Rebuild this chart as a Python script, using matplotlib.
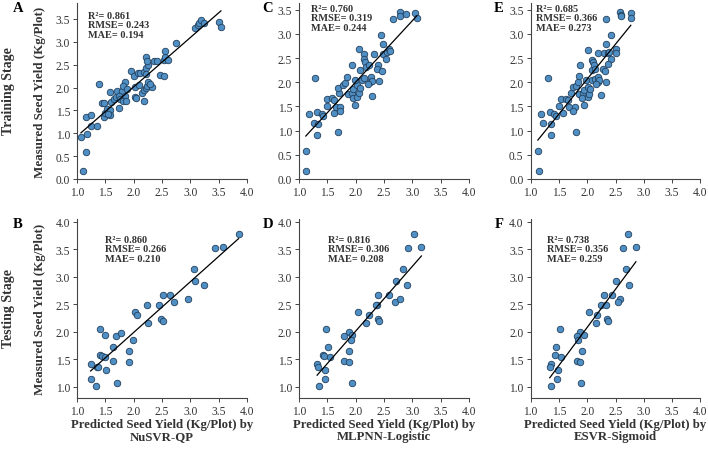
import numpy as np
import matplotlib.pyplot as plt

plt.rcParams['font.family'] = ['Liberation Serif', 'DejaVu Serif']

# training stage (measured vs predicted)
nusvr_train_x = [1.11, 1.15, 1.07, 1.18, 1.24, 1.35, 1.16, 1.25, 1.39, 1.44, 1.47, 1.48, 1.50, 1.53,
                 1.58, 1.59, 1.55, 1.60, 1.65, 1.59, 1.69, 1.74, 1.71, 1.79, 1.74, 1.84, 1.76, 1.81,
                 1.87, 1.84, 1.81, 1.88, 1.96, 2.01, 2.02, 2.03, 2.04, 2.07, 2.12, 2.14, 2.18, 2.21,
                 2.24, 2.26, 2.33, 2.19, 2.18, 2.21, 2.26, 2.21, 2.24, 2.36, 2.41, 2.47, 2.54, 2.53,
                 2.56, 2.61, 2.56, 2.74, 3.09, 3.13, 3.16, 3.19, 3.24, 3.50, 3.54, 2.22, 2.10, 2.28]
nusvr_train_y = [0.18, 0.58, 0.91, 0.98, 1.15, 1.15, 1.35, 1.40, 2.08, 1.66, 1.66, 1.35, 1.44, 1.53,
                 1.50, 1.40, 1.43, 1.68, 1.75, 1.91, 1.79, 1.55, 1.93, 1.93, 1.82, 1.82, 1.75, 1.71,
                 1.70, 2.12, 2.03, 1.97, 2.37, 2.25, 2.01, 1.79, 1.77, 2.32, 2.32, 1.88, 1.95, 1.98,
                 2.04, 2.12, 2.01, 1.71, 2.35, 2.42, 2.49, 2.66, 2.58, 2.58, 2.59, 2.28, 2.25, 2.60,
                 2.66, 2.61, 2.79, 2.98, 3.30, 3.37, 3.41, 3.48, 3.41, 3.43, 3.32, 2.30, 2.05, 2.07]

mlpnn_train_x = [1.12, 1.12, 1.32, 1.68, 1.26, 1.34, 1.18, 1.31, 1.40, 1.43, 1.29, 1.49, 1.50, 1.59,
                 1.62, 1.61, 1.65, 1.73, 1.73, 1.71, 1.69, 1.78, 1.82, 1.84, 1.87, 1.93, 1.95, 1.98,
                 1.96, 2.02, 1.99, 2.03, 2.06, 2.08, 2.11, 2.15, 2.06, 1.93, 2.08, 2.15, 2.15, 2.17,
                 2.19, 2.24, 2.27, 2.25, 2.29, 2.29, 2.22, 2.32, 2.40, 2.38, 2.46, 2.41, 2.45, 2.48,
                 2.48, 2.53, 2.55, 2.58, 2.61, 2.65, 2.78, 2.78, 2.88, 3.05, 3.08]
mlpnn_train_y = [0.17, 0.58, 0.91, 0.97, 1.15, 1.14, 1.35, 1.39, 1.35, 1.31, 2.08, 1.66, 1.52, 1.67,
                 1.64, 1.36, 1.48, 1.48, 1.40, 1.77, 1.89, 1.95, 1.99, 2.11, 1.76, 1.78, 1.67, 1.53,
                 1.86, 1.95, 2.04, 1.69, 1.78, 1.88, 2.04, 2.08, 2.68, 2.36, 2.26, 2.59, 2.48, 2.42,
                 2.31, 2.35, 2.10, 2.00, 2.02, 1.71, 1.97, 2.59, 2.35, 2.28, 2.24, 2.02, 2.98, 2.80,
                 2.59, 2.48, 2.62, 2.68, 2.64, 3.31, 3.46, 3.38, 3.41, 3.43, 3.33]

esvr_train_x = [1.15, 1.13, 1.37, 1.81, 1.22, 1.37, 1.18, 1.34, 1.41, 1.45, 1.30, 1.53, 1.51, 1.62,
                1.66, 1.58, 1.68, 1.78, 1.75, 1.71, 1.75, 1.81, 1.84, 1.86, 1.86, 1.92, 1.90, 1.94,
                1.95, 2.01, 1.98, 2.01, 2.04, 2.05, 2.08, 2.14, 2.02, 1.88, 2.08, 2.08, 2.11, 2.12,
                2.14, 2.19, 2.19, 2.21, 2.25, 2.16, 2.19, 2.28, 2.31, 2.33, 2.29, 2.42, 2.33, 2.37,
                2.39, 2.42, 2.37, 2.50, 2.50, 2.34, 2.58, 2.59, 2.59, 2.77, 2.77]
esvr_train_y = [0.17, 0.58, 0.91, 0.98, 1.15, 1.14, 1.35, 1.39, 1.35, 1.30, 2.08, 1.66, 1.52, 1.66,
                1.64, 1.36, 1.48, 1.48, 1.41, 1.77, 1.90, 1.93, 2.00, 2.13, 1.76, 1.78, 1.68, 1.53,
                1.85, 1.90, 2.04, 1.70, 1.76, 1.86, 2.04, 2.07, 2.67, 2.36, 2.26, 2.47, 2.42, 2.35,
                2.28, 2.10, 2.00, 2.04, 1.73, 1.97, 2.60, 2.28, 2.24, 2.00, 2.60, 2.98, 2.80, 2.60,
                2.62, 2.48, 2.38, 2.68, 2.61, 3.30, 3.46, 3.40, 3.37, 3.43, 3.33]

# testing stage
nusvr_test_x = [3.85, 3.43, 3.57, 3.06, 3.08, 3.24, 2.52, 2.64, 2.71, 2.96, 2.24, 2.44, 2.02, 2.05,
                2.25, 2.48, 2.52, 1.40, 1.50, 1.69, 1.78, 1.98, 1.64, 1.91, 1.40, 1.44, 1.49, 1.64,
                1.92, 1.24, 1.35, 1.37, 1.52, 1.24, 1.34, 1.70]
nusvr_test_y = [3.78, 3.52, 3.54, 3.15, 2.92, 2.85, 2.67, 2.67, 2.55, 2.59, 2.48, 2.49, 2.36, 2.31,
                2.16, 2.24, 2.19, 2.05, 1.95, 1.93, 1.98, 1.85, 1.73, 1.65, 1.58, 1.56, 1.55, 1.47,
                1.45, 1.41, 1.36, 1.36, 1.30, 1.15, 1.01, 1.08]

mlpnn_test_x = [3.03, 2.92, 3.16, 2.84, 2.72, 2.91, 2.39, 2.58, 2.69, 2.78, 2.38, 2.36, 2.04, 2.24,
                2.19, 2.40, 2.42, 1.48, 1.89, 1.93, 1.80, 1.92, 1.52, 1.89, 1.43, 1.44, 1.55, 1.80,
                1.89, 1.32, 1.34, 1.46, 1.45, 1.35, 1.94]
mlpnn_test_y = [3.78, 3.52, 3.54, 3.15, 2.92, 2.85, 2.67, 2.67, 2.55, 2.59, 2.49, 2.48, 2.36, 2.31,
                2.16, 2.24, 2.19, 2.05, 1.99, 1.95, 1.93, 1.85, 1.73, 1.65, 1.58, 1.57, 1.55, 1.47,
                1.45, 1.41, 1.36, 1.30, 1.15, 1.01, 1.08]

esvr_test_x = [2.72, 2.64, 2.86, 2.68, 2.50, 2.74, 2.29, 2.43, 2.58, 2.55, 2.25, 2.33, 2.03, 2.17,
               2.15, 2.35, 2.36, 1.52, 1.88, 1.95, 1.82, 1.84, 1.45, 1.91, 1.44, 1.54, 1.82, 1.87,
               1.37, 1.34, 1.49, 1.47, 1.36, 1.89]
esvr_test_y = [3.78, 3.52, 3.54, 3.15, 2.92, 2.85, 2.67, 2.67, 2.59, 2.55, 2.49, 2.48, 2.36, 2.31,
               2.16, 2.24, 2.19, 2.05, 1.99, 1.95, 1.93, 1.85, 1.73, 1.65, 1.58, 1.55, 1.47, 1.45,
               1.41, 1.36, 1.30, 1.15, 1.01, 1.08]

stats = [["R²= 0.861", "RMSE= 0.243", "MAE= 0.194"],
         ["R²= 0.760", "RMSE= 0.319", "MAE= 0.244"],
         ["R²= 0.685", "RMSE= 0.366", "MAE= 0.273"],
         ["R²= 0.860", "RMSE= 0.266", "MAE= 0.210"],
         ["R²= 0.816", "RMSE= 0.306", "MAE= 0.208"],
         ["R²= 0.738", "RMSE= 0.356", "MAE= 0.259"]]
models = ["NuSVR-QP", "MLPNN-Logistic", "ESVR-Sigmoid"]
letters = [["A", "C", "E"], ["B", "D", "F"]]

W, H = 708, 452
fig = plt.figure(figsize=(W / 100, H / 100), dpi=100)

col_left = [77, 299, 530.5]
row_box = [(4, 180), (220, 399)]
ylims = [[(0, 3.85), (0, 3.64), (0, 3.64)], [(0.8, 4.05), (0.8, 4.05), (0.8, 4.05)]]
text_pos = [[(0.065, 0.955), (0.07, 0.995), (0.03, 0.995)],
            [(0.165, 0.91), (0.17, 0.91), (0.097, 0.91)]]

data = [[(nusvr_train_x, nusvr_train_y), (mlpnn_train_x, mlpnn_train_y), (esvr_train_x, esvr_train_y)],
        [(nusvr_test_x, nusvr_test_y), (mlpnn_test_x, mlpnn_test_y), (esvr_test_x, esvr_test_y)]]

edge = '#444444'
for r in range(2):
    top, bot = row_box[r]
    for c in range(3):
        ax = fig.add_axes([col_left[c] / W, 1 - bot / H, 170 / W, (bot - top) / H])
        x = np.array(data[r][c][0])
        y = np.array(data[r][c][1])
        ax.scatter(x, y, s=22, facecolor='#4f8fc4', edgecolor='#23405e', linewidth=0.6, zorder=3)
        k, b = np.polyfit(x, y, 1)
        xx = np.array([x.min(), x.max()])
        ax.plot(xx, k * xx + b, color='black', lw=0.9, zorder=4)
        ax.set_xlim(1.0, 4.0)
        ax.set_ylim(*ylims[r][c])
        ax.set_xticks(np.arange(1.0, 4.01, 0.5))
        if r == 0:
            ax.set_yticks(np.arange(0.0, 3.51, 0.5))
        else:
            ax.set_yticks(np.arange(1.0, 4.01, 0.5))
        ax.xaxis.set_major_formatter(plt.FormatStrFormatter('%.1f'))
        ax.yaxis.set_major_formatter(plt.FormatStrFormatter('%.1f'))
        for s in ['top', 'right']:
            ax.spines[s].set_visible(False)
        for s in ['left', 'bottom']:
            ax.spines[s].set_color(edge)
            ax.spines[s].set_linewidth(0.8)
        ax.tick_params(direction='out', length=3, width=0.7, color=edge,
                       labelsize=8.3, labelcolor='#333333', pad=2)
        tx, ty = text_pos[r][c]
        ax.text(tx, ty, "\n".join(stats[r * 3 + c]), transform=ax.transAxes,
                ha='left', va='top', fontsize=7.4, fontweight='bold', color='#333333',
                linespacing=1.05)
        if c == 0:
            ax.set_ylabel("Measured Seed Yield (Kg/Plot)", fontsize=9.4,
                          fontweight='bold', color='#333333', labelpad=7)
        if r == 1:
            ax.set_xlabel("Predicted Seed Yield (Kg/Plot) by\n" + models[c], fontsize=9.2,
                          fontweight='bold', color='#333333', labelpad=1, linespacing=1.0)

letter_x = [18, 268, 499]
letter_y = [8, 225]
for r in range(2):
    for c in range(3):
        fig.text(letter_x[c] / W, 1 - letter_y[r] / H, letters[r][c], fontsize=10.5,
                 fontweight='bold', ha='center', va='center')

fig.text(9 / W, 1 - 91 / H, "Training Stage", rotation=90, fontsize=10,
         fontweight='bold', color='#333333', ha='center', va='center')
fig.text(9 / W, 1 - 309 / H, "Testing Stage", rotation=90, fontsize=10,
         fontweight='bold', color='#333333', ha='center', va='center')

fig.savefig("out.png", dpi=100)
